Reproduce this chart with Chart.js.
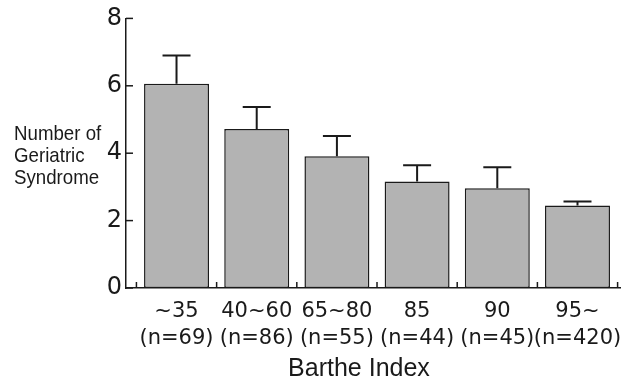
<!DOCTYPE html>
<html>
<head>
<meta charset="utf-8">
<script src="https://cdn.jsdelivr.net/npm/chart.js@4/dist/chart.umd.min.js"></script>
<style>
  html, body { margin: 0; padding: 0; background: #fff; }
  #wrap { position: relative; width: 641px; height: 379px; }
  #ytitle {
    position: absolute; left: 14px; top: 122px;
    font-family: "Liberation Sans", Arial, sans-serif;
    font-size: 21px; line-height: 22px; color: #1a1a1a;
    transform: scaleX(0.89); transform-origin: 0 0; white-space: nowrap;
  }
  #xtitle {
    position: absolute; left: 209px; width: 300px; top: 353px; text-align: center;
    font-family: "Liberation Sans", Arial, sans-serif;
    font-size: 25px; line-height: 28px; color: #1a1a1a; white-space: nowrap;
  }
</style>
</head>
<body>
<div id="wrap">
  <canvas id="c" width="641" height="379"></canvas>
  <div id="ytitle">Number of<br>Geriatric<br>Syndrome</div>
  <div id="xtitle">Barthe Index</div>
</div>
<script>
const categories = ['~35', '40~60', '65~80', '85', '90', '95~'];
const sampleSizes = ['(n=69)', '(n=86)', '(n=55)', '(n=44)', '(n=45)', '(n=420)'];
const means = [6.06, 4.72, 3.91, 3.16, 2.96, 2.45];
const errors = [0.84, 0.65, 0.60, 0.48, 0.62, 0.12];
const yTicks = [0, 2, 4, 6, 8];

const LABEL_FONT = '"DejaVu Sans", sans-serif';
const INK = '#1a1a1a';

const overlay = {
  id: 'overlay',
  afterDatasetsDraw(chart) {
    const ctx = chart.ctx, xs = chart.scales.x, ys = chart.scales.y, a = chart.chartArea;
    ctx.save();
    ctx.strokeStyle = INK;
    ctx.lineWidth = 2;
    means.forEach((m, i) => {
      const xp = xs.getPixelForValue(i);
      const y0 = ys.getPixelForValue(m);
      const y1 = ys.getPixelForValue(m + errors[i]);
      ctx.beginPath();
      ctx.moveTo(xp, y0); ctx.lineTo(xp, y1);
      ctx.moveTo(xp - 14, y1); ctx.lineTo(xp + 14, y1);
      ctx.stroke();
    });
    ctx.lineWidth = 1.5;
    yTicks.forEach(v => {
      const yp = ys.getPixelForValue(v);
      ctx.beginPath(); ctx.moveTo(a.left, yp); ctx.lineTo(a.left + 7, yp); ctx.stroke();
    });
    for (let i = 0; i <= categories.length; i++) {
      const xp = xs.getPixelForValue(i - 0.5);
      ctx.beginPath(); ctx.moveTo(xp, a.bottom); ctx.lineTo(xp, a.bottom - 6); ctx.stroke();
    }
    ctx.restore();
  }
};

new Chart(document.getElementById('c'), {
  type: 'bar',
  data: {
    datasets: [{
      data: means.map((m, i) => ({ x: i, y: m })),
      backgroundColor: '#b3b3b3',
      borderColor: INK,
      borderWidth: 1.5,
      borderSkipped: false,
      barPercentage: 0.81,
      categoryPercentage: 1.0
    }]
  },
  options: {
    responsive: false,
    animation: false,
    layout: { padding: { top: 5, right: 21, left: 0, bottom: 0 } },
    plugins: { legend: { display: false }, tooltip: { enabled: false } },
    scales: {
      x: {
        type: 'linear',
        offset: false,
        min: -0.63, max: 5.53,
        afterBuildTicks(s) { s.ticks = categories.map((c, i) => ({ value: i })); },
        afterFit(s) { s.height = 91; },
        grid: { display: false, drawTicks: false, offset: false },
        border: { display: true, color: INK, width: 1.5 },
        ticks: {
          autoSkip: false, maxRotation: 0, padding: 11,
          font: { family: LABEL_FONT, size: 21, lineHeight: 1.24 }, color: INK,
          callback: (v, i) => [categories[i], sampleSizes[i]]
        }
      },
      y: {
        min: 0, max: 8,
        afterBuildTicks(s) { s.ticks = yTicks.map(v => ({ value: v })); },
        afterFit(s) { s.width = 126; },
        grid: { display: false, drawTicks: false },
        border: { display: true, color: INK, width: 1.5 },
        ticks: { padding: 4, font: { family: LABEL_FONT, size: 24 }, color: INK }
      }
    }
  },
  plugins: [overlay]
});
</script>
</body>
</html>
